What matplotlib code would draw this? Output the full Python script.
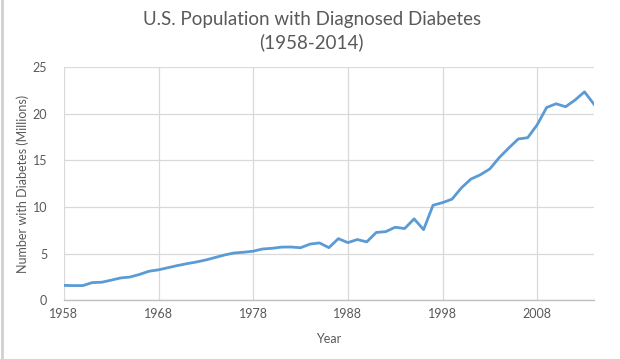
import matplotlib.pyplot as plt
from matplotlib.lines import Line2D

plt.rcParams['font.family'] = ['Lato', 'DejaVu Sans']

# Diagnosed diabetes, millions, 1958-2014
years = list(range(1958, 2015))
cases = [1.58, 1.56, 1.56, 1.88, 1.92, 2.14, 2.38, 2.48, 2.76, 3.10,
         3.25, 3.48, 3.71, 3.91, 4.09, 4.31, 4.58, 4.85, 5.06, 5.14,
         5.25, 5.49, 5.56, 5.69, 5.70, 5.62, 6.01, 6.14, 5.63, 6.60,
         6.17, 6.50, 6.25, 7.26, 7.35, 7.82, 7.68, 8.72, 7.56, 10.18,
         10.46, 10.83, 12.05, 12.99, 13.45, 14.08, 15.30, 16.32, 17.29, 17.43,
         18.81, 20.67, 21.07, 20.75, 21.47, 22.35, 21.02]
x_ticks = [1958, 1968, 1978, 1988, 1998, 2008]
y_ticks = [0, 5, 10, 15, 20, 25]

grey_text = '#595959'
grid_col = '#d9d9d9'

fig = plt.figure(figsize=(6.2, 3.59), dpi=100)
ax = fig.add_axes([0.103, 0.164, 0.855, 0.649])

ax.plot(years, cases, color='#5B9BD5', linewidth=2, solid_joinstyle='round')

ax.set_xlim(1958, 2014)
ax.set_ylim(0, 25)
ax.set_xticks(x_ticks)
ax.set_yticks(y_ticks)
ax.grid(True, color=grid_col, linewidth=0.9)
ax.set_axisbelow(True)

for s in ['top', 'right', 'left']:
    ax.spines[s].set_visible(False)
ax.spines['bottom'].set_color('#bfbfbf')
ax.spines['bottom'].set_linewidth(1)
ax.tick_params(length=0, labelsize=9, colors=grey_text, pad=6)
ax.tick_params(axis='y', pad=12)

ax.set_xlabel('Year', fontsize=9, color=grey_text, labelpad=9)
ax.set_ylabel('Number with Diabetes (Millions)', fontsize=9, color=grey_text, labelpad=3)

fig.text(0.503, 0.968, 'U.S. Population with Diagnosed Diabetes\n(1958-2014)',
         ha='center', va='top', fontsize=13.5, color=grey_text, linespacing=1.35)

# left border of the chart area
fig.add_artist(Line2D([0.003, 0.003], [0, 1], color='#d0d0d0', linewidth=2,
                      transform=fig.transFigure))

plt.savefig('out.png', dpi=100)
